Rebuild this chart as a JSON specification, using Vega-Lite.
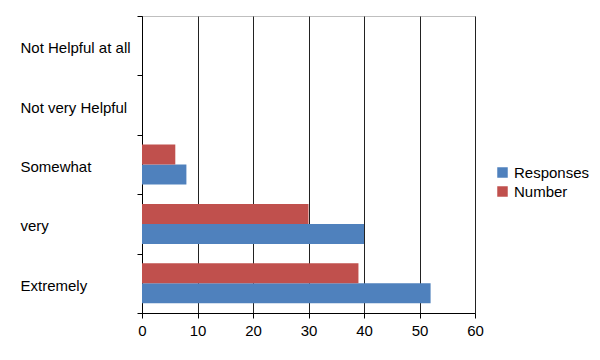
{
  "$schema": "https://vega.github.io/schema/vega-lite/v6.json",
  "width": 333,
  "height": 297,
  "autosize": {"type": "none"},
  "padding": {"left": 142, "top": 16, "right": 125, "bottom": 47},
  "background": "white",
  "data": {
    "values": [
      {"category": "Not Helpful at all", "series": "Responses", "value": 0},
      {"category": "Not Helpful at all", "series": "Number", "value": 0},
      {"category": "Not very Helpful", "series": "Responses", "value": 0},
      {"category": "Not very Helpful", "series": "Number", "value": 0},
      {"category": "Somewhat", "series": "Responses", "value": 8},
      {"category": "Somewhat", "series": "Number", "value": 6},
      {"category": "very", "series": "Responses", "value": 40},
      {"category": "very", "series": "Number", "value": 30},
      {"category": "Extremely", "series": "Responses", "value": 52},
      {"category": "Extremely", "series": "Number", "value": 39}
    ]
  },
  "mark": {"type": "bar"},
  "encoding": {
    "y": {
      "field": "category",
      "type": "nominal",
      "sort": null,
      "scale": {"paddingInner": 0, "paddingOuter": 0},
      "axis": {
        "title": null,
        "tickBand": "extent",
        "labelAlign": "left",
        "labelPadding": 117,
        "labelOffset": 2,
        "tickSize": 5,
        "tickColor": "#000000",
        "domainColor": "#000000",
        "labelFont": "Liberation Sans",
        "labelFontSize": 15,
        "labelColor": "#000000",
        "grid": false
      }
    },
    "yOffset": {
      "field": "series",
      "type": "nominal",
      "scale": {"domain": ["Number", "Responses"], "paddingInner": 0, "paddingOuter": 0.485}
    },
    "x": {
      "field": "value",
      "type": "quantitative",
      "scale": {"domain": [0, 60], "nice": false},
      "axis": {
        "title": null,
        "values": [0, 10, 20, 30, 40, 50, 60],
        "grid": true,
        "gridColor": "#222222",
        "gridOpacity": 1,
        "tickSize": 5,
        "tickColor": "#000000",
        "domainColor": "#000000",
        "labelFont": "Liberation Sans",
        "labelFontSize": 15,
        "labelColor": "#000000",
        "labelPadding": 5,
        "labelFlush": false
      }
    },
    "color": {
      "field": "series",
      "type": "nominal",
      "scale": {"domain": ["Responses", "Number"], "range": ["#4F81BD", "#C0504D"]},
      "legend": {
        "title": null,
        "orient": "none",
        "legendX": 353,
        "legendY": 149,
        "symbolType": "square",
        "symbolSize": 110,
        "symbolStrokeWidth": 0,
        "labelFont": "Liberation Sans",
        "labelFontSize": 15,
        "labelColor": "#000000",
        "rowPadding": 3,
        "labelOffset": 4
      }
    }
  },
  "config": {
    "view": {"stroke": "#BFBFBF"},
    "axis": {"domainWidth": 1}
  }
}
